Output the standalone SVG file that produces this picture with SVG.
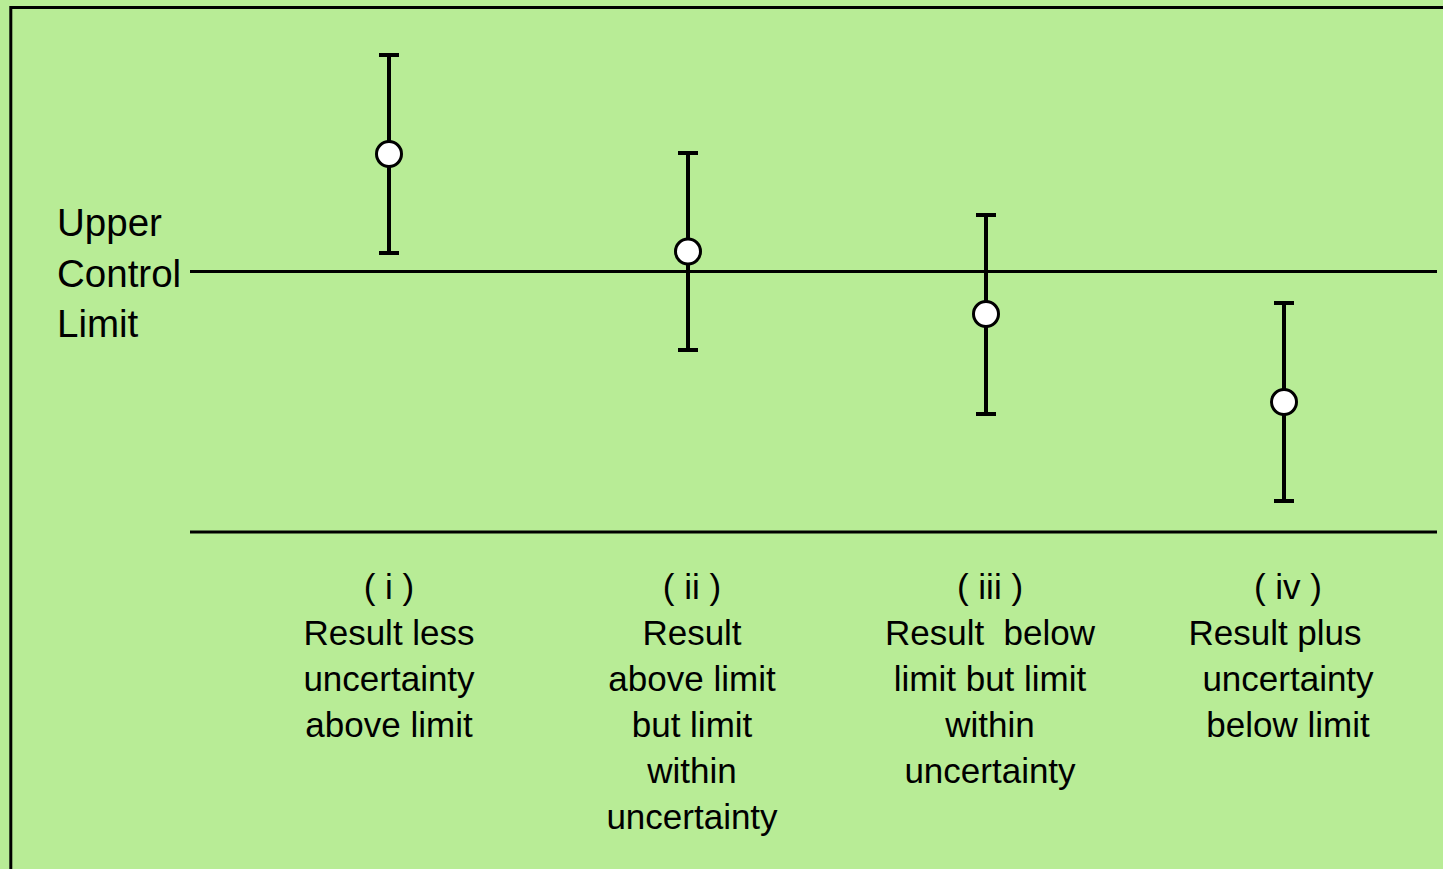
<svg xmlns="http://www.w3.org/2000/svg" width="1443" height="869" viewBox="0 0 1443 869">
<defs>
<style>
.bg{fill:#b8ec96}
.ln{stroke:#000;stroke-width:3;fill:none}
.bar{stroke:#000;stroke-width:4;fill:none}
.pt{fill:#fff;stroke:#000;stroke-width:3}
.lbl{font-family:"Liberation Sans",Arial,sans-serif;font-size:35px;fill:#000;text-anchor:middle}
.ucl{font-family:"Liberation Sans",Arial,sans-serif;font-size:38.5px;fill:#000}
</style>
</defs>
<rect class="bg" x="0" y="0" width="1443" height="869"/>
<path class="ln" d="M10.8,869 V7.5 H1443"/>
<g id="ucl-label">
<text class="ucl" x="57" y="236">Upper</text>
<text class="ucl" x="57" y="287">Control</text>
<text class="ucl" x="57" y="337">Limit</text>
</g>
<g id="connectors">
<line class="ln" x1="190" y1="271.5" x2="1437" y2="271.5"/>
<line class="ln" x1="190" y1="532" x2="1437" y2="532"/>
</g>
<g id="bar-i">
<path class="bar" d="M389,55 V253 M379,55 H399 M379,253 H399"/>
<circle class="pt" cx="389" cy="154" r="12.5"/>
</g>
<g id="bar-ii">
<path class="bar" d="M688,153 V350 M678,153 H698 M678,350 H698"/>
<circle class="pt" cx="688" cy="251.5" r="12.5"/>
</g>
<g id="bar-iii">
<path class="bar" d="M986,215 V414 M976,215 H996 M976,414 H996"/>
<circle class="pt" cx="986" cy="314" r="12.5"/>
</g>
<g id="bar-iv">
<path class="bar" d="M1284,303 V501 M1274,303 H1294 M1274,501 H1294"/>
<circle class="pt" cx="1284" cy="402" r="12.5"/>
</g>
<g id="label-i">
<text class="lbl" x="389" y="599">( i )</text>
<text class="lbl" x="389" y="645">Result less</text>
<text class="lbl" x="389" y="691">uncertainty</text>
<text class="lbl" x="389" y="737">above limit</text>
</g>
<g id="label-ii">
<text class="lbl" x="692" y="599">( ii )</text>
<text class="lbl" x="692" y="645">Result</text>
<text class="lbl" x="692" y="691">above limit</text>
<text class="lbl" x="692" y="737">but limit</text>
<text class="lbl" x="692" y="783">within</text>
<text class="lbl" x="692" y="829">uncertainty</text>
</g>
<g id="label-iii">
<text class="lbl" x="990" y="599">( iii )</text>
<text class="lbl" x="990" y="645" xml:space="preserve">Result  below</text>
<text class="lbl" x="990" y="691">limit but limit</text>
<text class="lbl" x="990" y="737">within</text>
<text class="lbl" x="990" y="783">uncertainty</text>
</g>
<g id="label-iv">
<text class="lbl" x="1288" y="599">( iv )</text>
<text class="lbl" x="1275" y="645">Result plus</text>
<text class="lbl" x="1288" y="691">uncertainty</text>
<text class="lbl" x="1288" y="737">below limit</text>
</g>
</svg>
